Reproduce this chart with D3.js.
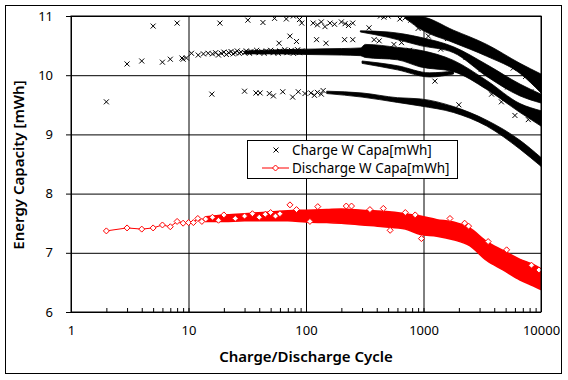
<!DOCTYPE html>
<html>
<head>
<meta charset="utf-8">
<script src="https://cdn.jsdelivr.net/npm/d3@7"></script>
<style>
  body { margin: 0; background: #fff; }
  svg text { font-family: "Noto Sans", sans-serif; fill: #000; }
</style>
</head>
<body>
<svg width="568" height="380"></svg>
<script>
// tick labels
const xTickLabels = [1, 10, 100, 1000, 10000];
const yTickLabels = [6, 7, 8, 9, 10, 11];

// charge: scattered single points [cycle, mWh]
const chargeScatter = [
  [2, 9.55], [3, 10.19], [4, 10.24], [5, 10.83], [6, 10.22], [7, 10.27], [8, 10.88], [9, 10.27],
  [8.8, 10.29], [9.6, 10.29], [10.6, 10.37], [12.1, 10.34], [13.4, 10.36], [14.7, 10.37],
  [16, 10.36], [17, 10.38], [18, 10.34], [19, 10.37], [20, 10.39], [21, 10.35], [22, 10.38],
  [23, 10.4], [24, 10.36], [25, 10.38], [26, 10.41], [27, 10.37], [28, 10.39], [30, 10.38],
  [31, 10.41], [33, 10.37], [34, 10.4], [36, 10.39], [38, 10.42], [40, 10.38], [42, 10.4],
  [44, 10.37], [46, 10.41], [48, 10.39], [50, 10.42], [53, 10.38], [55, 10.4], [58, 10.37],
  [60, 10.41], [63, 10.39], [66, 10.43], [69, 10.38], [72, 10.4], [75, 10.42], [78, 10.37],
  [82, 10.4], [85, 10.43], [88, 10.38], [92, 10.41], [96, 10.39],
  [18.5, 10.88], [32, 10.93], [43, 10.89], [54, 10.96], [68, 10.95], [78, 11.0], [88, 10.94],
  [92, 10.88], [115, 10.88], [125, 10.85], [135, 10.9], [145, 10.82], [160, 10.88], [175, 10.86],
  [200, 10.9], [215, 10.87], [230, 10.84], [250, 10.88], [344, 10.8], [430, 11.0], [460, 10.98],
  [500, 11.0], [630, 10.95], [700, 10.97], [780, 10.93], [850, 10.96], [900, 10.79],
  [59, 10.54], [73, 10.66], [83, 10.57], [123, 10.6], [148, 10.54], [213, 10.6], [250, 10.6],
  [15.8, 9.68], [30, 9.73], [37.5, 9.7], [40.7, 9.7], [48.7, 9.69], [52.8, 9.65], [63.4, 9.72],
  [77, 9.63], [86, 9.72], [98, 9.69], [110, 9.7], [118, 9.66], [125, 9.71], [135, 9.68], [140, 9.74],
  [380, 10.6], [420, 10.58], [560, 10.52], [650, 10.55], [760, 10.42], [1100, 10.66],
  [1400, 10.44], [1600, 10.62], [2300, 10.3], [2700, 10.5], [3100, 10.1], [4200, 10.33],
  [5200, 9.8], [5800, 10.12], [7400, 9.98], [8200, 9.72], [9200, 9.9], [2900, 9.96],
  [4600, 9.55], [6000, 9.32], [7800, 9.25], [3800, 9.68], [1250, 9.9], [2000, 9.5]
];

// charge: dense bands [cycle, low, high]
const chargeBandTop = [
  [700, 10.96, 11.0], [940, 10.78, 10.99], [1800, 10.55, 10.76], [3450, 10.32, 10.52],
  [6630, 10.03, 10.2], [10000, 9.7, 10.02]
];
const chargeBandUpper = [
  [290, 10.73, 10.75], [500, 10.64, 10.73], [940, 10.5, 10.64], [1800, 10.38, 10.48],
  [3450, 9.98, 10.18], [6630, 9.65, 9.85], [10000, 9.53, 9.68]
];
const chargeBandMain = [
  [30, 10.36, 10.41], [60, 10.36, 10.43], [100, 10.35, 10.44], [200, 10.34, 10.45],
  [290, 10.33, 10.46], [320, 10.3, 10.52], [600, 10.26, 10.47], [940, 10.14, 10.42],
  [1800, 10.06, 10.25], [3450, 9.76, 9.91], [6630, 9.37, 9.52], [10000, 9.14, 9.4]
];
const chargeBandLower = [
  [300, 10.2, 10.24], [600, 10.09, 10.16], [1130, 9.97, 10.04], [1800, 10.02, 10.07]
];
const chargeBandBottom = [
  [150, 9.69, 9.73], [300, 9.63, 9.7], [600, 9.54, 9.62], [940, 9.48, 9.6],
  [1800, 9.37, 9.47], [3450, 9.14, 9.24], [6630, 8.75, 8.9], [10000, 8.46, 8.61]
];

// discharge: early points joined by a line [cycle, mWh]
const dischargeEarly = [
  [2, 7.37], [3, 7.42], [4, 7.4], [5, 7.42], [6, 7.47], [7, 7.44], [8, 7.53], [9, 7.5],
  [10, 7.51], [11, 7.51], [12, 7.58], [13, 7.53], [14, 7.57]
];
// discharge: dense band [cycle, low, high]
const dischargeBand = [
  [14, 7.53, 7.61], [20, 7.53, 7.64], [30, 7.54, 7.66], [50, 7.54, 7.69], [70, 7.54, 7.71],
  [100, 7.52, 7.72], [150, 7.51, 7.73], [200, 7.5, 7.74], [300, 7.47, 7.72], [455, 7.44, 7.7],
  [700, 7.4, 7.66], [940, 7.31, 7.62], [1300, 7.28, 7.56], [1800, 7.22, 7.52], [2470, 7.12, 7.42],
  [3450, 6.87, 7.19], [4750, 6.71, 7.04], [6630, 6.54, 6.89], [8640, 6.44, 6.8], [10000, 6.38, 6.73]
];
// discharge: outlying markers on the band edges
const dischargeOutliers = [
  [16, 7.6], [18, 7.55], [20, 7.64], [25, 7.58], [30, 7.62], [35, 7.66], [40, 7.6], [45, 7.65],
  [50, 7.68], [55, 7.62], [60, 7.66], [73, 7.81], [83, 7.73], [108, 7.53], [126, 7.78],
  [220, 7.79], [244, 7.79], [350, 7.73], [455, 7.75], [520, 7.38], [700, 7.68], [850, 7.64],
  [960, 7.24], [1680, 7.58], [2240, 7.5], [2420, 7.45], [3550, 7.19], [5100, 7.05],
  [8300, 6.79], [9600, 6.71]
];

const svg = d3.select("svg");
const width = +svg.attr("width");
const height = +svg.attr("height");
const margin = { top: 16, right: 27, bottom: 68, left: 71 };
const innerWidth = width - margin.left - margin.right;
const innerHeight = height - margin.top - margin.bottom;

// outer chart frame
svg.append("rect")
  .attr("x", 5.5).attr("y", 5.5)
  .attr("width", 556).attr("height", 368)
  .attr("fill", "none").attr("stroke", "#000");

const xScale = d3.scaleLog().domain([1, 10000]).range([0, innerWidth]);
const yScale = d3.scaleLinear().domain([6, 11]).range([innerHeight, 0]);

const g = svg.append("g")
  .attr("transform", `translate(${margin.left},${margin.top})`);

// grid
const xGrid = g.append("g")
  .attr("transform", `translate(0,${innerHeight})`)
  .call(d3.axisBottom(xScale).tickValues(xTickLabels).tickSize(-innerHeight).tickFormat(""));
xGrid.select(".domain").remove();
xGrid.selectAll("text").remove();
const yGrid = g.append("g")
  .call(d3.axisLeft(yScale).tickValues(yTickLabels).tickSize(-innerWidth).tickFormat(""));
yGrid.select(".domain").remove();
yGrid.selectAll("text").remove();
g.selectAll(".tick line").attr("stroke", "#000");

g.append("clipPath").attr("id", "plot-clip")
  .append("rect").attr("width", innerWidth).attr("height", innerHeight);
const plot = g.append("g").attr("clip-path", "url(#plot-clip)");

const band = d3.area()
  .x(d => xScale(d[0]))
  .y0(d => yScale(d[1]))
  .y1(d => yScale(d[2]))
  .curve(d3.curveMonotoneX);

[chargeBandTop, chargeBandUpper, chargeBandMain, chargeBandLower, chargeBandBottom].forEach(b => {
  plot.append("path").datum(b)
    .attr("d", band)
    .attr("fill", "#000")
    .attr("stroke", "#000")
    .attr("stroke-width", 0.8);
});

const cross = "M-2.5,-2.5L2.5,2.5M-2.5,2.5L2.5,-2.5";
plot.selectAll(".charge")
  .data(chargeScatter)
  .enter().append("path")
  .attr("class", "charge")
  .attr("transform", d => `translate(${xScale(d[0])},${yScale(d[1])})`)
  .attr("d", cross)
  .attr("stroke", "#000")
  .attr("fill", "none");

const red = "#ff0000";
const diamond = "M0,-3L3,0L0,3L-3,0Z";

plot.append("path").datum(dischargeEarly)
  .attr("d", d3.line().x(d => xScale(d[0])).y(d => yScale(d[1])))
  .attr("fill", "none")
  .attr("stroke", red);

plot.append("path").datum(dischargeBand)
  .attr("d", band)
  .attr("fill", red)
  .attr("stroke", red)
  .attr("stroke-width", 1.5);

plot.selectAll(".discharge")
  .data(dischargeEarly.concat(dischargeOutliers))
  .enter().append("path")
  .attr("class", "discharge")
  .attr("transform", d => `translate(${xScale(d[0])},${yScale(d[1])})`)
  .attr("d", diamond)
  .attr("stroke", red)
  .attr("fill", "#fff");

// plot border
g.append("rect")
  .attr("width", innerWidth).attr("height", innerHeight)
  .attr("fill", "none").attr("stroke", "#000");

// axes
const xAxisG = g.append("g")
  .attr("transform", `translate(0,${innerHeight})`)
  .call(d3.axisBottom(xScale)
    .tickValues(xScale.ticks())
    .tickSizeInner(-4).tickSizeOuter(0).tickPadding(14)
    .tickFormat(d => xTickLabels.includes(d) ? d : ""));
xAxisG.select(".domain").remove();
xAxisG.selectAll("text").filter(function() { return this.textContent === ""; }).remove();

const yAxisG = g.append("g")
  .call(d3.axisLeft(yScale)
    .tickValues(yTickLabels)
    .tickSizeInner(5).tickSizeOuter(0).tickPadding(13)
    .tickFormat(d3.format("d")));
yAxisG.select(".domain").remove();

g.selectAll(".tick text").attr("font-size", 13).attr("font-family", "Noto Sans");
g.selectAll(".tick line").attr("stroke", "#000");

svg.append("text")
  .attr("x", margin.left + innerWidth / 2)
  .attr("y", 362)
  .attr("text-anchor", "middle")
  .attr("font-size", 15)
  .attr("font-weight", 600)
  .text("Charge/Discharge Cycle");

svg.append("text")
  .attr("transform", "rotate(-90)")
  .attr("x", -165)
  .attr("y", 24)
  .attr("text-anchor", "middle")
  .attr("font-size", 15)
  .attr("font-weight", 600)
  .text("Energy Capacity [mWh]");

// legend
const legend = svg.append("g").attr("transform", "translate(247,140)");
legend.append("rect")
  .attr("x", 0.5).attr("y", 0.5)
  .attr("width", 210).attr("height", 38)
  .attr("fill", "#fff").attr("stroke", "#000");
legend.append("path")
  .attr("transform", "translate(29,10)")
  .attr("d", cross).attr("stroke", "#000");
legend.append("text").attr("x", 45).attr("y", 14.5).attr("font-size", 13.5)
  .text("Charge W Capa[mWh]");
legend.append("line")
  .attr("x1", 15).attr("x2", 42).attr("y1", 28).attr("y2", 28)
  .attr("stroke", red);
legend.append("path")
  .attr("transform", "translate(28.5,28)")
  .attr("d", diamond).attr("stroke", red).attr("fill", "#fff");
legend.append("text").attr("x", 45).attr("y", 33).attr("font-size", 13.5)
  .text("Discharge W Capa[mWh]");
</script>
</body>
</html>
